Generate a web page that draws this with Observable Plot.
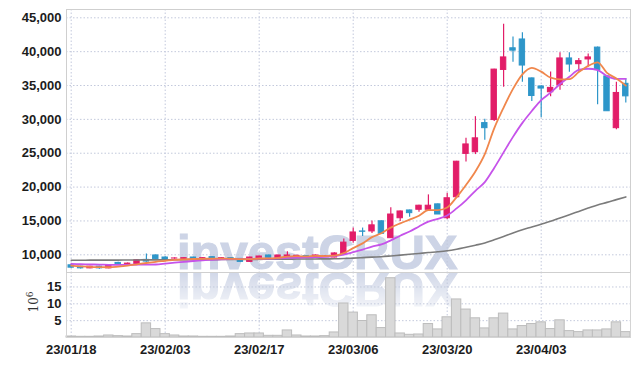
<!DOCTYPE html>
<html><head><meta charset="utf-8">
<script src="https://cdn.jsdelivr.net/npm/d3@7"></script>
<script src="https://cdn.jsdelivr.net/npm/@observablehq/plot@0.6"></script>
<style>
body{margin:0;background:#fff;}
#wrap{position:relative;width:639px;height:366px;overflow:hidden;background:#fff;}
.wm{position:absolute;font-family:"Liberation Sans",Arial,sans-serif;font-weight:bold;font-size:49px;line-height:50px;color:#cdd4e6;-webkit-text-stroke:1.2px #cdd4e6;white-space:nowrap;}
#wrap svg{position:absolute;left:0;}
#unit{position:absolute;left:33px;top:302px;transform:translate(-50%,-50%) rotate(-90deg);font-family:"DejaVu Serif",serif;font-size:12px;color:#333;white-space:nowrap;}
#unit sup{font-size:9px;}
</style></head>
<body><div id="wrap">
<div class="wm" style="left:177px;top:227px">investCRUX</div>
<div style="position:absolute;left:0;top:273px;width:639px;height:44px;overflow:hidden;-webkit-mask-image:linear-gradient(to bottom,rgba(0,0,0,0.9),rgba(0,0,0,0.08));mask-image:linear-gradient(to bottom,rgba(0,0,0,0.9),rgba(0,0,0,0.08));">
<div class="wm" style="left:177px;top:-7.7px;transform:scaleY(-1)">investCRUX</div>
</div>
<div id="unit">10<sup>6</sup></div>
</div>
<script>
const dates = ["23/01/18","23/01/19","23/01/20","23/01/25","23/01/26","23/01/27","23/01/30","23/01/31","23/02/01","23/02/02",
"23/02/03","23/02/06","23/02/07","23/02/08","23/02/09","23/02/10","23/02/13","23/02/14","23/02/15","23/02/16",
"23/02/17","23/02/20","23/02/21","23/02/22","23/02/23","23/02/24","23/02/27","23/02/28","23/03/02","23/03/03",
"23/03/06","23/03/07","23/03/08","23/03/09","23/03/10","23/03/13","23/03/14","23/03/15","23/03/16","23/03/17",
"23/03/20","23/03/21","23/03/22","23/03/23","23/03/24","23/03/27","23/03/28","23/03/29","23/03/30","23/03/31",
"23/04/03","23/04/04","23/04/05","23/04/06","23/04/07","23/04/10","23/04/11","23/04/12","23/04/13","23/04/14"];
const open = [8450,8250,8000,8250,8000,8800,8650,8650,9250,9900,9600,9450,9400,9600,9450,9650,9450,9500,9400,8950,
9450,9900,9550,9550,9700,9800,9550,9700,9600,10100,12050,13450,13450,14950,12450,15400,16550,16650,16650,17450,
15400,18500,24900,25150,29450,29900,37300,40500,41800,36050,34850,34000,35050,39000,38150,38850,40600,36350,28700,35250];
const high = [8550,8300,8300,8300,8550,8900,8800,9300,10100,10000,9700,9550,9550,9650,9550,9700,9550,9600,9450,9650,
9800,9950,9950,10450,9950,9900,9950,9900,10300,12350,13950,13950,15000,15000,16950,16450,16600,17300,18850,17500,
19100,23800,27200,30400,30000,37400,44050,42150,42800,36100,35000,37000,39850,39850,39000,39650,40700,36400,35500,36000];
const low = [8000,7900,7950,7850,7950,8550,8600,8600,8900,9300,9200,9350,9350,9250,9350,9300,9350,9400,8900,8900,
9400,9500,9500,9500,9600,9550,9500,9600,9550,10000,11700,12700,13150,13100,12400,14900,15550,16300,16500,15950,
15200,18300,23700,24800,26900,29700,34750,38450,35500,32650,30250,33350,34300,36950,37000,37750,32150,31200,28450,32400];
const close = [8100,8000,8250,8000,8450,8600,8700,9200,9000,9350,9300,9460,9500,9300,9500,9350,9500,9450,8950,9600,
9750,9550,9900,9900,9850,9650,9900,9750,10200,11800,13300,13400,14350,13100,15950,16400,16150,17250,17250,15950,
18350,23750,26300,27200,28700,37350,39150,40150,37950,33450,34550,34650,39000,38100,38600,39150,37300,31200,33900,33400];
const volume = [0.3,0.2,0.2,0.3,0.6,0.4,0.3,1.0,4.2,2.5,1.0,0.6,0.3,0.3,0.2,0.2,0.2,0.3,1.0,1.2,
1.2,0.5,0.5,2.1,0.6,0.3,0.3,0.4,1.5,10.1,7.4,4.9,6.6,2.8,17.6,1.2,0.8,0.9,4.0,2.4,
6.0,11.3,8.3,5.7,2.7,5.7,7.1,2.4,3.4,4.0,4.5,2.5,5.1,1.9,1.6,2.1,2.1,2.4,4.5,1.6];
const ma5 = [8400,8300,8220,8180,8160,8260,8400,8590,8790,8970,9110,9260,9320,9380,9410,9420,9430,9420,9350,9370,
9450,9460,9550,9740,9790,9770,9840,9810,9870,10260,10990,11690,12610,13190,14020,14640,15190,15770,16600,16600,
16990,18510,20320,22310,24860,28660,31740,34510,36660,37610,37050,36150,35920,35950,36980,37900,38430,36870,36030,34990];
const ma10 = [8650,8620,8580,8550,8520,8510,8520,8540,8550,8565,8685,8830,8955,9085,9190,9265,9345,9370,9365,9390,
9435,9445,9485,9545,9580,9610,9650,9680,9805,10025,10380,10765,11210,11530,12140,12815,13440,14190,14895,15310,
15815,16850,18045,19455,20730,22825,25125,27415,29485,31235,32855,33945,35215,36305,37295,37475,37290,36395,35990,35985];
const ma60 = [9200,9200,9210,9210,9220,9220,9230,9240,9250,9250,9260,9270,9270,9280,9290,9290,9300,9310,9310,9320,
9330,9340,9350,9360,9370,9380,9390,9400,9410,9450,9510,9580,9660,9720,9830,9950,10070,10200,10330,10440,
10590,10830,11120,11420,11740,12210,12700,13220,13700,14100,14520,14940,15440,15920,16410,16900,17370,17740,18150,18550];
const priceTicks = [10000,15000,20000,25000,30000,35000,40000,45000];
const volumeTicks = [5,10,15];
const dateTicks = ["23/01/18","23/02/03","23/02/17","23/03/06","23/03/20","23/04/03"];

const UP = "#e21d68", DOWN = "#2e96c9";
const rows = dates.map((d,i)=>({date:d, open:open[i], high:high[i], low:low[i], close:close[i],
  volume:volume[i], ma5:ma5[i], ma10:ma10[i], ma60:ma60[i], color: close[i]>=open[i]?UP:DOWN}));

const gridColor = "#c3c9dc", dash = "1.5,2";
const axisStyle = {background:"transparent", fontFamily:"'Liberation Sans', Arial, sans-serif", fontSize:"13px", fontWeight:"bold", color:"#1c1c1c", overflow:"visible"};

const price = Plot.plot({
  width:639, height:272, marginLeft:66, marginRight:9, marginTop:9, marginBottom:0,
  style: axisStyle,
  x:{type:"band", domain:dates, padding:0, round:false, axis:null},
  y:{domain:[7386,46226], ticks:priceTicks, tickFormat:d3.format(","), tickSize:0, tickPadding:5, label:null},
  marks:[
    Plot.ruleY(priceTicks,{stroke:gridColor, strokeDasharray:dash}),
    Plot.ruleX(dateTicks,{stroke:gridColor, strokeDasharray:dash}),
    Plot.frame({stroke:"#cfcfcf"}),
    Plot.ruleX(rows,{x:"date", y1:"low", y2:"high", stroke:"color", strokeWidth:1.2}),
    Plot.barY(rows,{x:"date", y1:"open", y2:"close", fill:"color", stroke:"color", strokeWidth:1, insetLeft:2, insetRight:2}),
    Plot.line(rows,{x:"date", y:"ma60", stroke:"#7b7b7b", strokeWidth:1.6, curve:"monotone-x"}),
    Plot.line(rows,{x:"date", y:"ma10", stroke:"#c653ea", strokeWidth:1.8, curve:"monotone-x"}),
    Plot.line(rows,{x:"date", y:"ma5", stroke:"#f0874c", strokeWidth:1.8, curve:"monotone-x"})
  ]
});
price.style.top = "0px";

const vol = Plot.plot({
  width:639, height:94, marginLeft:66, marginRight:9, marginTop:0, marginBottom:29,
  style: axisStyle,
  x:{type:"band", domain:dates, padding:0, round:false, ticks:dateTicks, tickSize:0, tickPadding:7, label:null},
  y:{domain:[0,19.3], ticks:volumeTicks, tickSize:0, tickPadding:5, label:null},
  marks:[
    Plot.ruleY(volumeTicks,{stroke:gridColor, strokeDasharray:dash}),
    Plot.ruleX(dateTicks,{stroke:gridColor, strokeDasharray:dash}),
    Plot.barY(rows,{x:"date", y:"volume", fill:"#d9d9d9", stroke:"#bdbdbd", strokeWidth:1}),
    Plot.frame({stroke:"#d4d4d4"})
  ]
});
vol.style.top = "272px";

const wrap = document.getElementById("wrap");
wrap.appendChild(vol);
wrap.appendChild(price);
</script>
</body></html>
